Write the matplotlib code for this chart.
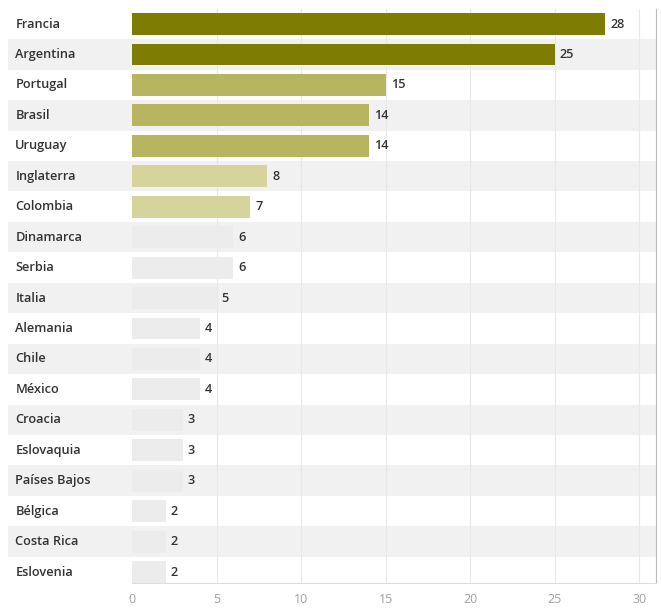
import numpy as np
import matplotlib.pyplot as plt

# Datos: países y cantidad
paises = ['Francia', 'Argentina', 'Portugal', 'Brasil', 'Uruguay', 'Inglaterra',
          'Colombia', 'Dinamarca', 'Serbia', 'Italia', 'Alemania', 'Chile',
          'México', 'Croacia', 'Eslovaquia', 'Países Bajos', 'Bélgica',
          'Costa Rica', 'Eslovenia']
valores = [28, 25, 15, 14, 14, 8, 7, 6, 6, 5, 4, 4, 4, 3, 3, 3, 2, 2, 2]
ticks_x = [0, 5, 10, 15, 20, 25, 30]

# Colores por grupo
def color_barra(v):
    if v >= 20:
        return '#7f7c03'
    if v >= 10:
        return '#b7b560'
    if v >= 7:
        return '#d5d49c'
    return '#ececec'

colores = [color_barra(v) for v in valores]

plt.rcParams['font.family'] = ['Open Sans', 'DejaVu Sans']

fig = plt.figure(figsize=(6.61, 6.08), dpi=100)
ax = fig.add_axes([132 / 661, 25 / 608, 524 / 661, 574.2 / 608])

y = np.arange(len(paises))

# Bandas alternas de fondo (se extienden hacia la zona de etiquetas)
for i in y:
    if i % 2 == 1:
        ax.axhspan(i - 0.5, i + 0.5, xmin=-0.237, xmax=1.0, color='#f1f1f1',
                   zorder=0, clip_on=False, lw=0)

# Líneas verticales de la cuadrícula
for t in ticks_x[1:]:
    ax.axvline(t, color='#e8e8e8', lw=0.8, zorder=1)

ax.barh(y, valores, height=0.72, color=colores, zorder=2)

# Etiquetas de valor
for i, v in enumerate(valores):
    ax.text(v + 0.3, i, str(v), va='center', ha='left', fontsize=9.2,
            color='#333333', fontweight='semibold', zorder=3)

# Nombres de país a la izquierda
for i, p in enumerate(paises):
    ax.text(-6.9, i, p, va='center', ha='left', fontsize=9.2,
            color='#333333', fontweight='semibold', zorder=3)

ax.set_xlim(0, 31)
ax.set_ylim(18.36, -0.5)
ax.set_yticks([])
ax.set_xticks(ticks_x)
ax.set_xticklabels([str(t) for t in ticks_x], color='#a0a0a0', fontsize=9)
ax.tick_params(axis='x', length=0, pad=7)

for s in ['top', 'left']:
    ax.spines[s].set_visible(False)
ax.spines['bottom'].set_color('#dddddd')
ax.spines['right'].set_color('#bbbbbb')

fig.savefig('out.png', dpi=100)
